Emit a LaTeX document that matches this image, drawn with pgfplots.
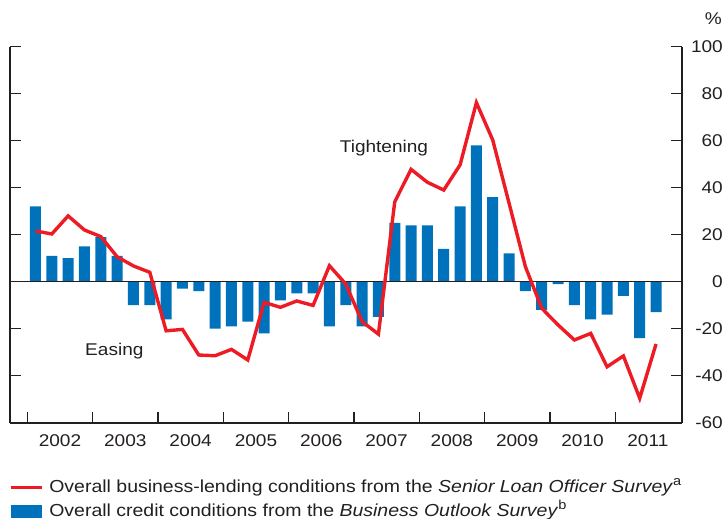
\documentclass[border=0pt]{standalone}
\usepackage{fontspec}
\setmainfont[FakeStretch=1.12]{Liberation Sans}
\usepackage{pgfplots}
\pgfplotsset{compat=1.18}
\usetikzlibrary{calc}

\definecolor{slooRed}{RGB}{237,28,36}
\definecolor{bosBlue}{RGB}{0,114,188}
\definecolor{txt}{RGB}{35,31,32}
\newcommand\lbl{\fontsize{17bp}{20bp}\selectfont}
\newcommand\leg{\fontsize{17.4bp}{20bp}\selectfont}
\newcommand\fnmark[1]{\raisebox{6.5bp}{\fontsize{13bp}{14bp}\selectfont #1}}

\begin{document}
\begin{tikzpicture}
\begin{axis}[
    name=ax,
    scale only axis,
    width=672bp, height=376bp,
    xmin=-1.56, xmax=39.59,
    ymin=-60, ymax=100,
    axis x line*=bottom,
    axis y line*=box,
    axis line style={-, line width=1.6bp, txt},
    tick align=inside,
    major tick length=11bp,
    tick style={line width=1.4bp, txt},
    xtick={-0.5,3.5,...,35.5},
    xticklabels={},
    extra x ticks={1.5,5.5,...,37.5},
    extra x tick labels={2002,2003,2004,2005,2006,2007,2008,2009,2010,2011},
    extra x tick style={major tick length=0pt},
    xticklabel style={anchor=north, inner sep=0pt, yshift=-11.3bp, font=\lbl, text=txt},
    ytick={-60,-40,...,100},
    yticklabel pos=right,
    yticklabel style={anchor=east, inner sep=0pt, xshift=41bp, font=\lbl, text=txt},
    /pgf/number format/assume math mode=true,
    reverse legend,
    legend cell align=left,
    legend style={at={(axis description cs:0,0)}, anchor=north west,
        xshift=-0.7bp, yshift=-56.3bp, draw=none, fill=none,
        inner sep=0pt, outer sep=0pt, row sep=7bp, column sep=5.7bp,
        font=\leg, text=txt,
        nodes={inner sep=0pt, text height=13bp, text depth=4bp}},
]
\addplot[ybar, bar width=11bp, bar shift=0pt, fill=bosBlue, draw=none,
    legend image code/.code={\fill[bosBlue] (0bp,-6.3bp) rectangle (31.5bp,6.3bp);}]
coordinates {
(0,32) (1,11) (2,10) (3,15) (4,19) (5,11) (6,-10) (7,-10)
(8,-16) (9,-3) (10,-4) (11,-20) (12,-19) (13,-17) (14,-22) (15,-8)
(16,-5) (17,-5) (18,-19) (19,-10) (20,-19) (21,-15) (22,25) (23,24)
(24,24) (25,14) (26,32) (27,58) (28,36) (29,12) (30,-4) (31,-12)
(32,-1) (33,-10) (34,-16) (35,-14) (36,-6) (37,-24) (38,-13)
};
\addlegendentry{Overall credit conditions from the \textit{Business Outlook Survey}\fnmark{b}}

\addplot[txt, line width=1.3bp, forget plot] coordinates {(-1.56,0) (39.59,0)};

\addplot[slooRed, line width=3.4bp, no markers,
    legend image code/.code={\draw[slooRed, line width=2.8bp] (0bp,0bp) -- (31.5bp,0bp);}]
coordinates {
(0,21.6) (1,20.3) (2,28) (3,22) (4,19.2) (5,10.6) (6,6.7) (7,4)
(8,-20.9) (9,-20.3) (10,-31.2) (11,-31.5) (12,-28.8) (13,-33.3) (14,-8.8) (15,-10.9)
(16,-8.2) (17,-10.1) (18,6.8) (19,-1) (20,-17) (21,-22.3) (22,34) (23,47.8)
(24,42.3) (25,39) (26,49.7) (27,76.2) (28,60.3) (29,33.4) (30,6.4) (31,-11.3)
(32,-18.4) (33,-24.8) (34,-22) (35,-36.2) (36,-31.6) (37,-49.6) (38,-26.5)
};
\addlegendentry{Overall business-lending conditions from the \textit{Senior Loan Officer Survey}\fnmark{a}}

\node[anchor=base, font=\lbl, text=txt] at (axis cs:21.34,55) {Tightening};
\node[anchor=base, font=\lbl, text=txt] at (axis cs:4.83,-31.6) {Easing};
\end{axis}
\node[anchor=east, inner sep=0pt, font=\lbl, text=txt] at ($(ax.north east)+(40bp,27.7bp)$) {\%};
\pgfresetboundingbox
\path[use as bounding box] ($(ax.south west)+(-10bp,-96.3bp)$) rectangle ($(ax.south west)+(715bp,422.7bp)$);
\end{tikzpicture}
\end{document}
